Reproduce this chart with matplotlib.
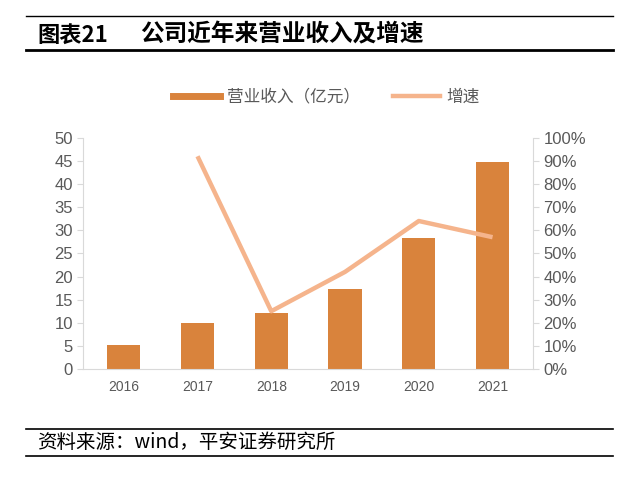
import matplotlib.pyplot as plt
from matplotlib.lines import Line2D
from matplotlib.ticker import FuncFormatter

plt.rcParams['font.family'] = ['Noto Sans CJK SC', 'DejaVu Sans']

years = ['2016', '2017', '2018', '2019', '2020', '2021']
revenue = [5.2, 9.9, 12.2, 17.3, 28.4, 44.8]       # 营业收入 (亿元)
growth_years = ['2017', '2018', '2019', '2020', '2021']
growth = [0.92, 0.25, 0.42, 0.64, 0.57]              # 增速

bar_color = '#D9833C'
line_color = '#F5B48C'
grey = '#595959'
spine = '#D9D9D9'
num_font = ['Liberation Sans', 'Noto Sans CJK SC']

fig = plt.figure(figsize=(6.4, 4.92), dpi=100)
ax = fig.add_axes([0.13, 0.25, 0.703, 0.47])
ax2 = ax.twinx()

x = range(len(years))
ax.bar(x, revenue, width=0.45, color=bar_color, zorder=2)
gx = [years.index(y) for y in growth_years]
ax2.plot(gx, growth, color=line_color, lw=3.2, solid_capstyle='butt')

ax.set_xlim(-0.55, 5.55)
ax.set_ylim(0, 50)
ax.set_yticks(range(0, 51, 5))
ax2.set_ylim(0, 1)
ax2.set_yticks([i / 10 for i in range(11)])
ax2.yaxis.set_major_formatter(FuncFormatter(lambda v, p: '%d%%' % round(v * 100)))
ax.set_xticks(list(x))
ax.set_xticklabels(years)

for a in (ax, ax2):
    for s in a.spines.values():
        s.set_visible(False)
ax.spines['left'].set_visible(True)
ax.spines['left'].set_color(spine)
ax.spines['bottom'].set_visible(True)
ax.spines['bottom'].set_color(spine)
ax2.spines['right'].set_visible(True)
ax2.spines['right'].set_color(spine)
ax.tick_params(axis='y', color=spine, length=4, labelcolor=grey)
ax2.tick_params(axis='y', color=spine, length=4, labelcolor=grey)
ax.tick_params(axis='x', length=0, pad=8)
for lab in ax.get_yticklabels() + ax2.get_yticklabels():
    lab.set_family(num_font)
    lab.set_fontsize(12)
for lab in ax.get_xticklabels():
    lab.set_family(num_font)
    lab.set_fontsize(10)
    lab.set_color(grey)

handles = [Line2D([], [], color=bar_color, lw=5),
           Line2D([], [], color=line_color, lw=3.2)]
fig.legend(handles, ['营业收入（亿元）', '增速'], loc='center', bbox_to_anchor=(0.51, 0.803),
           ncol=2, frameon=False, fontsize=12, labelcolor=grey,
           handlelength=2.8, columnspacing=2.0, handletextpad=0.4)

# header and footer rules
fig.add_artist(Line2D([0.04, 0.958], [0.968, 0.968], color='black', lw=1))
fig.add_artist(Line2D([0.04, 0.958], [0.898, 0.898], color='black', lw=2))
fig.text(0.058, 0.929, '图表21', fontsize=16, fontweight='bold', va='center')
fig.text(0.219, 0.929, '公司近年来营业收入及增速', fontsize=17, fontweight='bold', va='center')

fig.add_artist(Line2D([0.04, 0.958], [0.128, 0.128], color='black', lw=1.2))
fig.add_artist(Line2D([0.04, 0.958], [0.073, 0.073], color='black', lw=1.2))
fig.text(0.058, 0.1, '资料来源：wind，平安证券研究所', fontsize=14, style='italic', va='center')

fig.savefig('out.png', dpi=100)
